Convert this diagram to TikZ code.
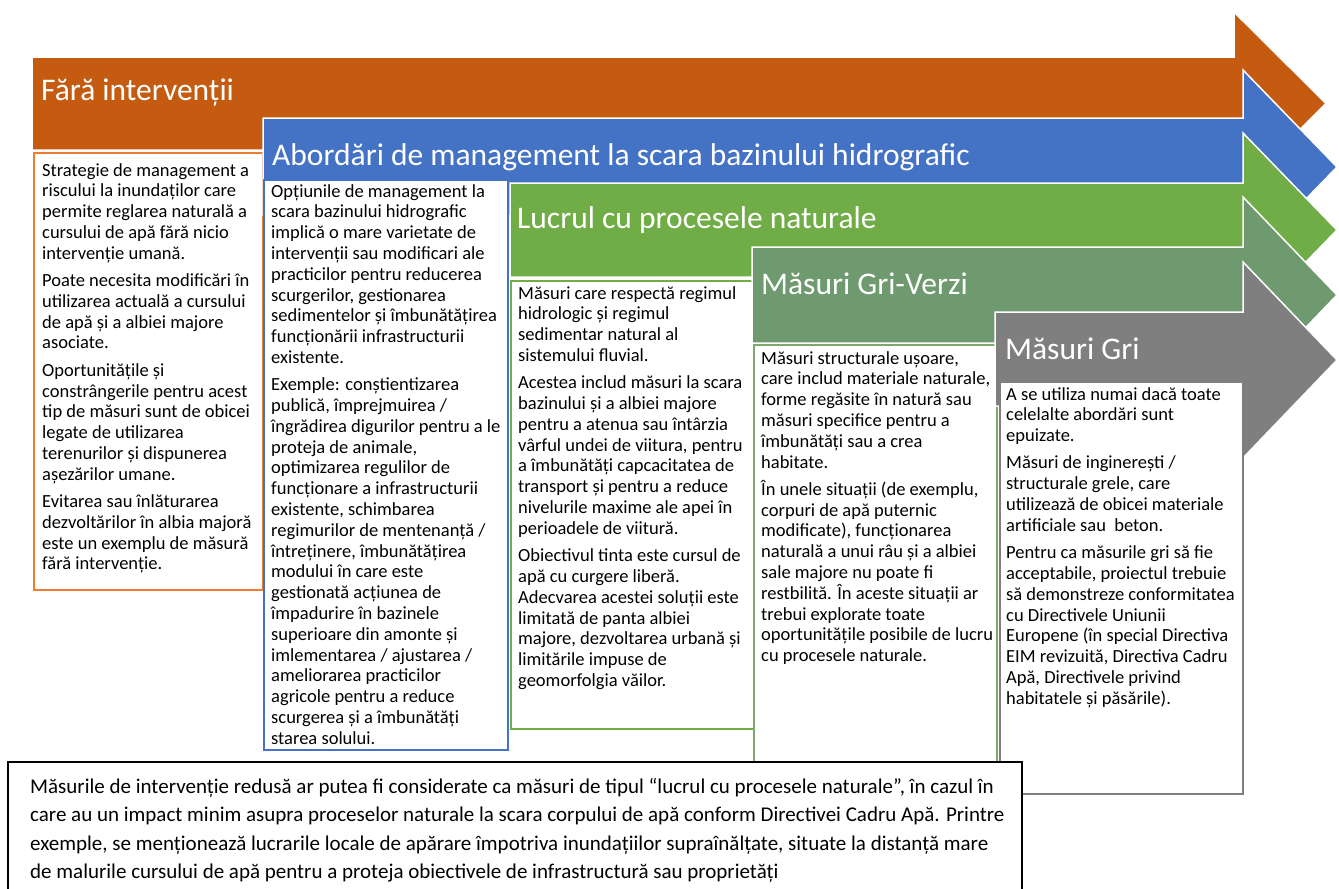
\documentclass[tikz,border=0pt]{standalone}
\usepackage{fontspec}
\setmainfont{Carlito}
\definecolor{corange}{RGB}{197,90,17}
\definecolor{cblue}{RGB}{68,114,196}
\definecolor{cgreen}{RGB}{112,173,71}
\definecolor{cgg}{RGB}{111,153,111}
\definecolor{cgray}{RGB}{127,127,127}
\definecolor{borange}{RGB}{237,125,49}
\definecolor{bgg}{RGB}{125,168,112}
\tikzset{
  arrowshape/.style={draw=white,line width=1.5pt},
  titletext/.style={anchor=west,inner sep=0pt,text=white,font=\fontsize{31.5}{36}\selectfont},
  boxframe/.style={fill=white,line width=1.8pt},
  boxtext/.style={anchor=north west,inner sep=0pt,align=left,font=\fontsize{18.5}{20.8}\selectfont},
}
\newcommand{\pgap}{\\[6.5pt]}
\begin{document}
\begin{tikzpicture}[x=1pt,y=-1pt]
\useasboundingbox (0,0) rectangle (1339,889);
% arrow 1
\fill[corange,arrowshape] (32,57) -- (1234,57) -- (1234,12) -- (1326,103.5) -- (1234,195) -- (1234,150) -- (32,150) -- cycle;
\node[titletext] (t1) at (41,93) {Fără intervenții};
\draw[boxframe,draw=borange] (34,153) rectangle (263,590);
\node[boxtext] (b1) at (42,163) {Strategie de management a\\
riscului la inundaților care\\
permite reglarea naturală a\\
cursului de apă fără nicio\\
intervenție umană.\pgap
Poate necesita modificări în\\
utilizarea actuală a cursului\\
de apă și a albiei majore\\
asociate.\pgap
Oportunitățile și\\
constrângerile pentru acest\\
tip de măsuri sunt de obicei\\
legate de utilizarea\\
terenurilor și dispunerea\\
așezărilor umane.\pgap
Evitarea sau înlăturarea\\
dezvoltărilor în albia majoră\\
este un exemplu de măsură\\
fără intervenție.};
% arrow 2
\fill[cblue,arrowshape] (263,118) -- (1243,118) -- (1243,70) -- (1337,167) -- (1243,264) -- (1243,215) -- (263,215) -- cycle;
\node[titletext] (t2) at (272,157) {Abordări de management la scara bazinului hidrografic};
\draw[boxframe,draw=cblue] (264,180) rectangle (508,750);
\node[boxtext] (b2) at (271,184) {Opțiunile de management la\\
scara bazinului hidrografic\\
implică o mare varietate de\\
intervenții sau modificari ale\\
practicilor pentru reducerea\\
scurgerilor, gestionarea\\
sedimentelor și îmbunătățirea\\
funcționării infrastructurii\\
existente.\pgap
Exemple: conștientizarea\\
publică, împrejmuirea /\\
îngrădirea digurilor pentru a le\\
proteja de animale,\\
optimizarea regulilor de\\
funcționare a infrastructurii\\
existente, schimbarea\\
regimurilor de mentenanță /\\
întreținere, îmbunătățirea\\
modului în care este\\
gestionată acțiunea de\\
împadurire în bazinele\\
superioare din amonte și\\
imlementarea / ajustarea /\\
ameliorarea practicilor\\
agricole pentru a reduce\\
scurgerea și a îmbunătăți\\
starea solului.};
% arrow 3
\fill[cgreen,arrowshape] (510,183) -- (1243,183) -- (1243,133) -- (1337,230) -- (1243,327) -- (1243,277) -- (510,277) -- cycle;
\node[titletext] (t3) at (517,220) {Lucrul cu procesele naturale};
\draw[boxframe,draw=cgreen] (511,281) rectangle (754,729);
\node[boxtext] (b3) at (518,286) {Măsuri care respectă regimul\\
hidrologic și regimul\\
sedimentar natural al\\
sistemului fluvial.\pgap
Acestea includ măsuri la scara\\
bazinului și a albiei majore\\
pentru a atenua sau întârzia\\
vârful undei de viitura, pentru\\
a îmbunătăți capcacitatea de\\
transport și pentru a reduce\\
nivelurile maxime ale apei în\\
perioadele de viitură.\pgap
Obiectivul tinta este cursul de\\
apă cu curgere liberă.\\
Adecvarea acestei soluții este\\
limitată de panta albiei\\
majore, dezvoltarea urbană și\\
limitările impuse de\\
geomorfolgia văilor.};
% arrow 4
\fill[cgg,arrowshape] (752,247) -- (1243,247) -- (1243,197) -- (1337,295) -- (1243,393) -- (1243,343) -- (752,343) -- cycle;
\node[titletext] (t4) at (761,284) {Măsuri Gri-Verzi};
\draw[boxframe,draw=bgg] (754,345) rectangle (997,775);
\node[boxtext] (b4) at (761,351) {Măsuri structurale ușoare,\\
care includ materiale naturale,\\
forme regăsite în natură sau\\
măsuri specifice pentru a\\
îmbunătăți sau a crea\\
habitate.\pgap
În unele situații (de exemplu,\\
corpuri de apă puternic\\
modificate), funcționarea\\
naturală a unui râu și a albiei\\
sale majore nu poate fi\\
restbilită. În aceste situații ar\\
trebui explorate toate\\
oportunitățile posibile de lucru\\
cu procesele naturale.};
% arrow 5
\fill[cgray,arrowshape] (995,312) -- (1243,312) -- (1243,262) -- (1337,360) -- (1243,458) -- (1243,406) -- (995,406) -- cycle;
\node[titletext] (t5) at (1005,349) {Măsuri Gri};
\draw[boxframe,draw=cgray] (1000,382) rectangle (1243,794);
\node[boxtext] (b5) at (1006,387) {A se utiliza numai dacă toate\\
celelalte abordări sunt\\
epuizate.\pgap
Măsuri de inginerești /\\
structurale grele, care\\
utilizează de obicei materiale\\
artificiale sau\ \ beton.\pgap
Pentru ca măsurile gri să fie\\
acceptabile, proiectul trebuie\\
să demonstreze conformitatea\\
cu Directivele Uniunii\\
Europene (în special Directiva\\
EIM revizuită, Directiva Cadru\\
Apă, Directivele privind\\
habitatele și păsările).};
% bottom box
\draw[fill=white,draw=black,line width=1.8pt] (8,762) rectangle (1022,900);
\node[anchor=north west,inner sep=0pt,align=left,font=\fontsize{21}{28.4}\selectfont] (bn) at (30,778) {Măsurile de intervenție redusă ar putea fi considerate ca măsuri de tipul “lucrul cu procesele naturale”, în cazul în\\
care au un impact minim asupra proceselor naturale la scara corpului de apă conform Directivei Cadru Apă. Printre\\
exemple, se menționează lucrarile locale de apărare împotriva inundațiilor supraînălțate, situate la distanță mare\\
de malurile cursului de apă pentru a proteja obiectivele de infrastructură sau proprietăți};
\end{tikzpicture}
\end{document}
